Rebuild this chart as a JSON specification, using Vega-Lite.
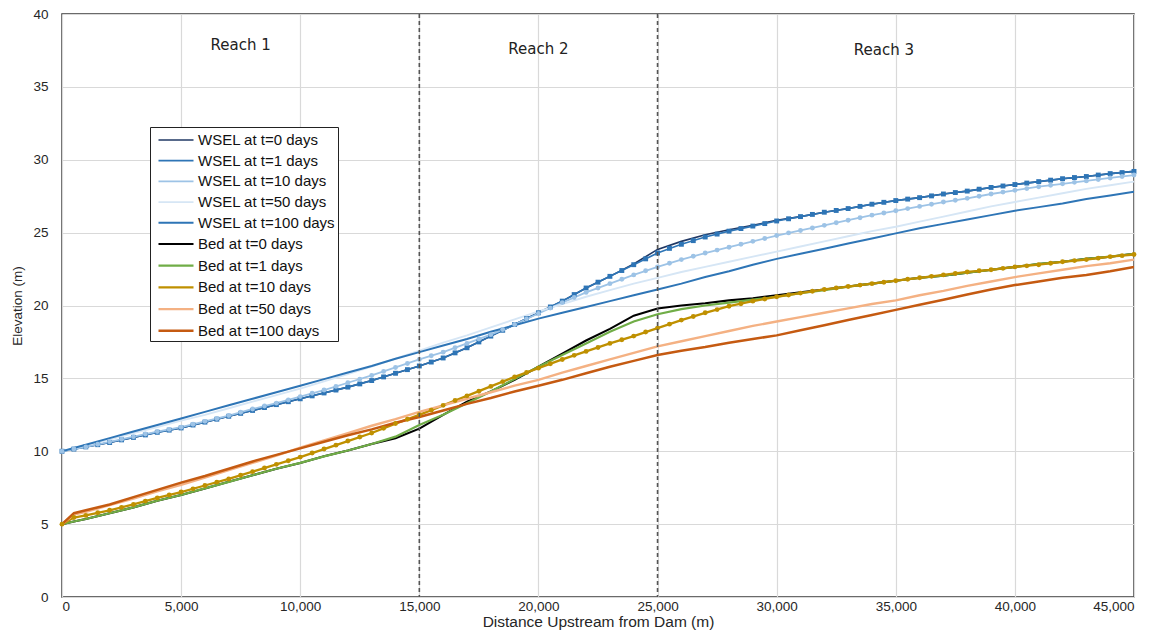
{
  "$schema": "https://vega.github.io/schema/vega-lite/v6.json",
  "width": 1072,
  "height": 583,
  "autosize": {"type": "none"},
  "padding": {"left": 62, "top": 14, "right": 28, "bottom": 34},
  "background": "white",
  "config": {
    "view": {"stroke": "#3a3a3a", "strokeWidth": 1.5},
    "font": "Liberation Sans",
    "axis": {
      "grid": true,
      "gridColor": "#d9d9d9",
      "gridWidth": 1.2,
      "ticks": false,
      "domain": false,
      "labelFont": "Liberation Sans",
      "labelColor": "#262626",
      "titleFont": "Liberation Sans",
      "titleColor": "#262626",
      "titleFontWeight": "normal"
    }
  },
  "datasets": {
    "profile": [
      {"x":0,"a":10,"b":10,"c":10,"d":10,"e":10,"f":5,"g":5,"h":5,"i":5,"j":5},
      {"x":500,"a":10.15,"b":10.15,"c":10.15,"d":10.2,"e":10.22,"f":5.18,"g":5.18,"h":5.45,"i":5.65,"j":5.75},
      {"x":1000,"a":10.3,"b":10.3,"c":10.3,"d":10.4,"e":10.45,"f":5.35,"g":5.35,"h":5.6,"i":5.85,"j":5.95},
      {"x":2000,"a":10.6,"b":10.6,"c":10.65,"d":10.8,"e":10.9,"f":5.75,"g":5.75,"h":5.95,"i":6.3,"j":6.35},
      {"x":3000,"a":10.95,"b":10.95,"c":11.0,"d":11.25,"e":11.35,"f":6.15,"g":6.15,"h":6.35,"i":6.75,"j":6.85},
      {"x":4000,"a":11.3,"b":11.3,"c":11.35,"d":11.65,"e":11.8,"f":6.6,"g":6.6,"h":6.8,"i":7.25,"j":7.35},
      {"x":5000,"a":11.6,"b":11.6,"c":11.65,"d":12.1,"e":12.25,"f":7.0,"g":7.0,"h":7.2,"i":7.7,"j":7.85},
      {"x":6000,"a":12.0,"b":12.0,"c":12.05,"d":12.5,"e":12.7,"f":7.45,"g":7.45,"h":7.65,"i":8.2,"j":8.3},
      {"x":7000,"a":12.4,"b":12.4,"c":12.45,"d":12.95,"e":13.15,"f":7.9,"g":7.9,"h":8.1,"i":8.7,"j":8.8},
      {"x":8000,"a":12.8,"b":12.8,"c":12.9,"d":13.4,"e":13.6,"f":8.35,"g":8.35,"h":8.6,"i":9.2,"j":9.3},
      {"x":9000,"a":13.2,"b":13.2,"c":13.3,"d":13.85,"e":14.05,"f":8.8,"g":8.8,"h":9.1,"i":9.7,"j":9.75},
      {"x":10000,"a":13.6,"b":13.6,"c":13.75,"d":14.3,"e":14.5,"f":9.2,"g":9.2,"h":9.6,"i":10.25,"j":10.2},
      {"x":11000,"a":14.0,"b":14.0,"c":14.2,"d":14.8,"e":14.95,"f":9.65,"g":9.65,"h":10.15,"i":10.75,"j":10.65},
      {"x":12000,"a":14.4,"b":14.4,"c":14.7,"d":15.3,"e":15.4,"f":10.05,"g":10.05,"h":10.7,"i":11.25,"j":11.1},
      {"x":13000,"a":14.85,"b":14.85,"c":15.2,"d":15.8,"e":15.85,"f":10.5,"g":10.5,"h":11.25,"i":11.75,"j":11.5},
      {"x":14000,"a":15.35,"b":15.35,"c":15.75,"d":16.35,"e":16.35,"f":10.9,"g":11.0,"h":11.9,"i":12.2,"j":11.95},
      {"x":15000,"a":15.85,"b":15.85,"c":16.3,"d":16.9,"e":16.8,"f":11.55,"g":11.8,"h":12.5,"i":12.7,"j":12.35},
      {"x":16000,"a":16.4,"b":16.4,"c":16.8,"d":17.45,"e":17.25,"f":12.5,"g":12.5,"h":13.15,"i":13.15,"j":12.8},
      {"x":17000,"a":17.1,"b":17.1,"c":17.4,"d":17.95,"e":17.7,"f":13.4,"g":13.3,"h":13.8,"i":13.6,"j":13.25},
      {"x":18000,"a":17.9,"b":17.9,"c":18.0,"d":18.5,"e":18.2,"f":14.1,"g":14.1,"h":14.45,"i":14.05,"j":13.65},
      {"x":19000,"a":18.7,"b":18.7,"c":18.7,"d":19.05,"e":18.65,"f":14.9,"g":14.95,"h":15.1,"i":14.5,"j":14.1},
      {"x":20000,"a":19.5,"b":19.5,"c":19.45,"d":19.6,"e":19.1,"f":15.8,"g":15.8,"h":15.7,"i":14.9,"j":14.5},
      {"x":21000,"a":20.3,"b":20.3,"c":20.2,"d":20.1,"e":19.5,"f":16.7,"g":16.6,"h":16.3,"i":15.4,"j":14.9},
      {"x":22000,"a":21.2,"b":21.2,"c":20.9,"d":20.6,"e":19.9,"f":17.6,"g":17.4,"h":16.85,"i":15.85,"j":15.35},
      {"x":23000,"a":22.0,"b":22.0,"c":21.5,"d":21.05,"e":20.3,"f":18.4,"g":18.2,"h":17.4,"i":16.3,"j":15.8},
      {"x":24000,"a":22.85,"b":22.8,"c":22.1,"d":21.5,"e":20.7,"f":19.3,"g":18.9,"h":17.9,"i":16.75,"j":16.2},
      {"x":25000,"a":23.85,"b":23.6,"c":22.65,"d":21.9,"e":21.1,"f":19.8,"g":19.4,"h":18.45,"i":17.2,"j":16.6},
      {"x":26000,"a":24.4,"b":24.2,"c":23.15,"d":22.3,"e":21.5,"f":20.0,"g":19.75,"h":19.0,"i":17.55,"j":16.9},
      {"x":27000,"a":24.85,"b":24.7,"c":23.6,"d":22.65,"e":21.95,"f":20.15,"g":20.0,"h":19.5,"i":17.9,"j":17.15},
      {"x":28000,"a":25.2,"b":25.1,"c":24.0,"d":23.0,"e":22.35,"f":20.35,"g":20.2,"h":19.95,"i":18.25,"j":17.45},
      {"x":29000,"a":25.5,"b":25.45,"c":24.4,"d":23.35,"e":22.8,"f":20.5,"g":20.4,"h":20.3,"i":18.6,"j":17.7},
      {"x":30000,"a":25.85,"b":25.8,"c":24.8,"d":23.7,"e":23.2,"f":20.7,"g":20.6,"h":20.6,"i":18.9,"j":17.95},
      {"x":31000,"a":26.1,"b":26.1,"c":25.15,"d":24.05,"e":23.55,"f":20.9,"g":20.85,"h":20.85,"i":19.2,"j":18.3},
      {"x":32000,"a":26.4,"b":26.4,"c":25.5,"d":24.4,"e":23.9,"f":21.1,"g":21.05,"h":21.1,"i":19.5,"j":18.65},
      {"x":33000,"a":26.65,"b":26.65,"c":25.85,"d":24.75,"e":24.25,"f":21.3,"g":21.3,"h":21.3,"i":19.8,"j":19.0},
      {"x":34000,"a":26.95,"b":26.95,"c":26.2,"d":25.1,"e":24.6,"f":21.5,"g":21.5,"h":21.5,"i":20.1,"j":19.35},
      {"x":35000,"a":27.2,"b":27.2,"c":26.5,"d":25.4,"e":24.95,"f":21.7,"g":21.7,"h":21.7,"i":20.35,"j":19.7},
      {"x":36000,"a":27.4,"b":27.4,"c":26.8,"d":25.75,"e":25.3,"f":21.9,"g":21.9,"h":21.9,"i":20.7,"j":20.05},
      {"x":37000,"a":27.65,"b":27.65,"c":27.1,"d":26.1,"e":25.6,"f":22.05,"g":22.05,"h":22.1,"i":21.0,"j":20.4},
      {"x":38000,"a":27.85,"b":27.85,"c":27.35,"d":26.45,"e":25.9,"f":22.25,"g":22.25,"h":22.3,"i":21.35,"j":20.75},
      {"x":39000,"a":28.1,"b":28.1,"c":27.65,"d":26.8,"e":26.2,"f":22.45,"g":22.45,"h":22.45,"i":21.65,"j":21.1},
      {"x":40000,"a":28.3,"b":28.3,"c":27.9,"d":27.1,"e":26.5,"f":22.65,"g":22.65,"h":22.65,"i":21.95,"j":21.4},
      {"x":41000,"a":28.5,"b":28.5,"c":28.15,"d":27.4,"e":26.75,"f":22.85,"g":22.85,"h":22.8,"i":22.2,"j":21.65},
      {"x":42000,"a":28.7,"b":28.7,"c":28.35,"d":27.7,"e":27.0,"f":23.0,"g":23.0,"h":23.0,"i":22.45,"j":21.9},
      {"x":43000,"a":28.85,"b":28.85,"c":28.55,"d":28.0,"e":27.3,"f":23.2,"g":23.2,"h":23.15,"i":22.7,"j":22.1},
      {"x":44000,"a":29.05,"b":29.05,"c":28.75,"d":28.25,"e":27.55,"f":23.35,"g":23.35,"h":23.35,"i":22.9,"j":22.35},
      {"x":45000,"a":29.2,"b":29.2,"c":28.95,"d":28.5,"e":27.8,"f":23.55,"g":23.55,"h":23.5,"i":23.15,"j":22.65}
    ],
    "midmarkers": [
      {"x":1500,"b":10.45,"c":10.48,"h":5.78},
      {"x":2500,"b":10.78,"c":10.82,"h":6.15},
      {"x":3500,"b":11.12,"c":11.18,"h":6.58},
      {"x":4500,"b":11.45,"c":11.5,"h":7.0},
      {"x":5500,"b":11.8,"c":11.85,"h":7.42},
      {"x":6500,"b":12.2,"c":12.25,"h":7.88},
      {"x":7500,"b":12.6,"c":12.68,"h":8.35},
      {"x":8500,"b":13.0,"c":13.1,"h":8.85},
      {"x":9500,"b":13.4,"c":13.52,"h":9.35},
      {"x":10500,"b":13.8,"c":13.98,"h":9.88},
      {"x":11500,"b":14.2,"c":14.45,"h":10.42},
      {"x":12500,"b":14.62,"c":14.95,"h":10.98},
      {"x":13500,"b":15.1,"c":15.48,"h":11.58},
      {"x":14500,"b":15.6,"c":16.02,"h":12.2},
      {"x":15500,"b":16.12,"c":16.55,"h":12.82},
      {"x":16500,"b":16.75,"c":17.1,"h":13.48},
      {"x":17500,"b":17.5,"c":17.7,"h":14.12},
      {"x":18500,"b":18.3,"c":18.35,"h":14.78},
      {"x":19500,"b":19.1,"c":19.08,"h":15.4},
      {"x":20500,"b":19.9,"c":19.82,"h":16.0},
      {"x":21500,"b":20.75,"c":20.55,"h":16.58},
      {"x":22500,"b":21.6,"c":21.2,"h":17.12},
      {"x":23500,"b":22.4,"c":21.8,"h":17.65},
      {"x":24500,"b":23.2,"c":22.38,"h":18.18},
      {"x":25500,"b":23.92,"c":22.9,"h":18.72},
      {"x":26500,"b":24.45,"c":23.38,"h":19.25},
      {"x":27500,"b":24.9,"c":23.8,"h":19.72},
      {"x":28500,"b":25.28,"c":24.2,"h":20.12},
      {"x":29500,"b":25.62,"c":24.6,"h":20.45},
      {"x":30500,"b":25.95,"c":24.98,"h":20.72},
      {"x":31500,"b":26.25,"c":25.32,"h":20.98},
      {"x":32500,"b":26.52,"c":25.68,"h":21.2},
      {"x":33500,"b":26.8,"c":26.02,"h":21.4},
      {"x":34500,"b":27.08,"c":26.35,"h":21.6},
      {"x":35500,"b":27.3,"c":26.65,"h":21.8},
      {"x":36500,"b":27.52,"c":26.95,"h":22.0},
      {"x":37500,"b":27.75,"c":27.22,"h":22.2},
      {"x":38500,"b":27.98,"c":27.5,"h":22.38},
      {"x":39500,"b":28.2,"c":27.78,"h":22.55},
      {"x":40500,"b":28.4,"c":28.02,"h":22.72},
      {"x":41500,"b":28.6,"c":28.25,"h":22.9},
      {"x":42500,"b":28.78,"c":28.45,"h":23.08},
      {"x":43500,"b":28.95,"c":28.65,"h":23.25},
      {"x":44500,"b":29.12,"c":28.85,"h":23.42}
    ],
    "reaches": [
      {"bound": 15000},
      {"bound": 25000}
    ],
    "labels": [
      {"name": "Reach 1", "lx": 7500, "ly": 37.9},
      {"name": "Reach 2", "lx": 20000, "ly": 37.6},
      {"name": "Reach 3", "lx": 34500, "ly": 37.5}
    ]
  },
  "layer": [
    {
      "data": {"name": "profile"},
      "transform": [
        {"fold": ["a","b","c","d","e","f","g","h","i","j"], "as": ["series","elev"]}
      ],
      "mark": {"type": "line", "clip": true},
      "encoding": {
        "x": {
          "field": "x", "type": "quantitative",
          "scale": {"domain": [0, 45000], "nice": false},
          "axis": {
            "values": [0,5000,10000,15000,20000,25000,30000,35000,40000,45000],
            "format": ",.0f",
            "labelFontSize": 13.5,
            "labelPadding": 2,
            "title": "Distance Upstream from Dam (m)",
            "titleFontSize": 15.5,
            "titleY": 29,
            "titleBaseline": "alphabetic"
          }
        },
        "y": {
          "field": "elev", "type": "quantitative",
          "scale": {"domain": [0, 40], "nice": false},
          "axis": {
            "values": [0,5,10,15,20,25,30,35,40],
            "labelFontSize": 13.5,
            "labelPadding": 14,
            "title": "Elevation (m)",
            "titleFontSize": 13.5,
            "titleX": -52,
            "titleBaseline": "top"
          }
        },
        "color": {
          "field": "series", "type": "nominal",
          "scale": {
            "domain": ["a","b","c","d","e","f","g","h","i","j"],
            "range": ["#203864","#2e75b6","#9dc3e6","#d6e6f5","#2e75b6","#000000","#70ad47","#bf9000","#f4b183","#c55a11"]
          },
          "legend": {
            "title": null,
            "orient": "none",
            "legendX": 88,
            "legendY": 113,
            "direction": "vertical",
            "symbolType": "M-0.5,0H3",
            "symbolSize": 400,
            "symbolStrokeWidth": 2,
            "labelFont": "Liberation Sans",
            "labelFontSize": 15,
            "labelColor": "#111",
            "labelOffset": 23,
            "rowPadding": 1.7,
            "padding": 2,
            "strokeColor": "#222",
            "fillColor": "white",
            "labelExpr": "['WSEL at t=0 days','WSEL at t=1 days','WSEL at t=10 days','WSEL at t=50 days','WSEL at t=100 days','Bed at t=0 days','Bed at t=1 days','Bed at t=10 days','Bed at t=50 days','Bed at t=100 days'][indexof('abcdefghij', datum.label)]"
          }
        },
        "strokeWidth": {
          "field": "series", "type": "nominal",
          "scale": {
            "domain": ["a","b","c","d","e","f","g","h","i","j"],
            "range": [1.6,2.5,2.2,1.6,1.6,1.6,1.6,2.2,1.6,1.6]
          },
          "legend": null
        }
      }
    },
    {
      "data": {"name": "profile"},
      "transform": [
        {"fold": ["b","c","h"], "as": ["series","elev"]}
      ],
      "mark": {"type": "point", "filled": true, "opacity": 1},
      "encoding": {
        "x": {"field": "x", "type": "quantitative"},
        "y": {"field": "elev", "type": "quantitative"},
        "color": {"field": "series", "type": "nominal"},
        "shape": {
          "field": "series", "type": "nominal",
          "scale": {"domain": ["b","c","h"], "range": ["square","circle","circle"]},
          "legend": null
        },
        "size": {"value": 24}
      }
    },
    {
      "data": {"name": "midmarkers"},
      "transform": [
        {"fold": ["b","c","h"], "as": ["series","elev"]}
      ],
      "mark": {"type": "point", "filled": true, "opacity": 1},
      "encoding": {
        "x": {"field": "x", "type": "quantitative"},
        "y": {"field": "elev", "type": "quantitative"},
        "color": {"field": "series", "type": "nominal"},
        "shape": {"field": "series", "type": "nominal", "legend": null},
        "size": {"value": 24}
      }
    },
    {
      "data": {"name": "reaches"},
      "mark": {"type": "rule", "color": "#555555", "strokeWidth": 1.6, "strokeDash": [4, 3]},
      "encoding": {
        "x": {"field": "bound", "type": "quantitative"}
      }
    },
    {
      "data": {"name": "labels"},
      "mark": {"type": "text", "font": "DejaVu Sans", "fontSize": 15, "color": "#222222", "align": "center", "baseline": "middle"},
      "encoding": {
        "x": {"field": "lx", "type": "quantitative"},
        "y": {"field": "ly", "type": "quantitative"},
        "text": {"field": "name"}
      }
    }
  ]
}
